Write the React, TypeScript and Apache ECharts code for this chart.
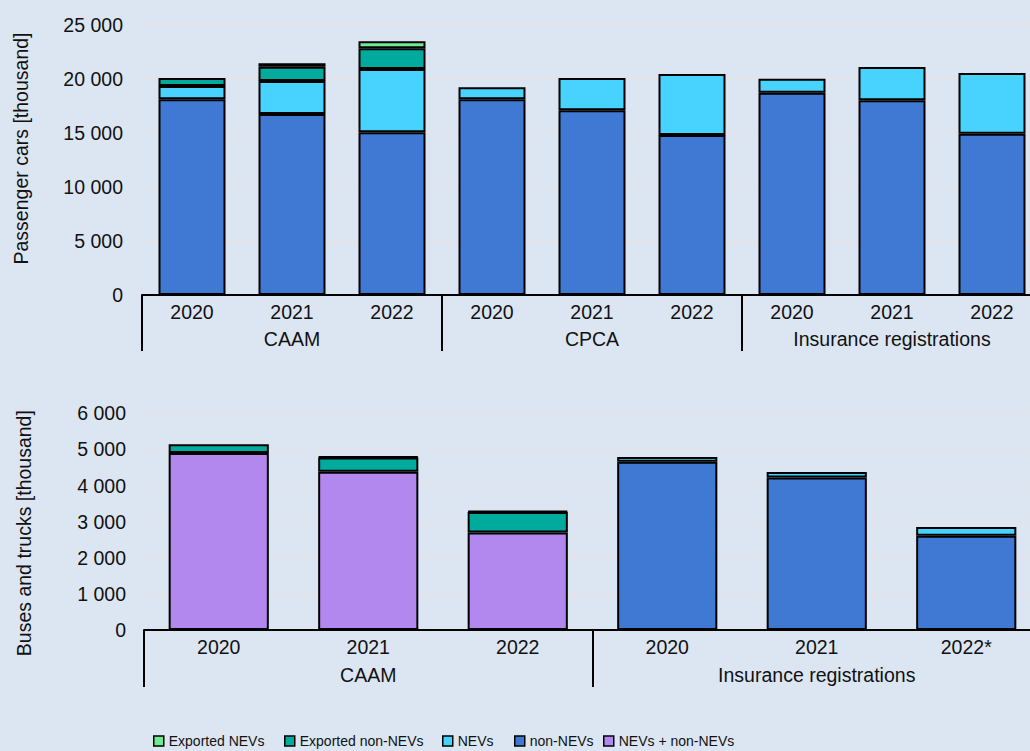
import React, { useEffect, useRef } from "react";
import * as echarts from "echarts";

// ---------- Data ----------
const topYears = ["2020", "2021", "2022", "2020", "2021", "2022", "2020", "2021", "2022"];
const topGroups = ["CAAM", "CPCA", "Insurance registrations"];
const topNonNEVs = [18120, 16760, 15060, 18120, 17100, 14810, 18730, 18030, 14940];
const topNEVs = [1230, 3050, 5870, 1110, 2990, 5650, 1300, 3080, 5620];
const topExpNonNEVs = [740, 1330, 1910, "-", "-", "-", "-", "-", "-"];
const topExpNEVs = ["-", 310, 650, "-", "-", "-", "-", "-", "-"];

const botYears = ["2020", "2021", "2022", "2020", "2021", "2022*"];
const botGroups = ["CAAM", "Insurance registrations"];
const botAll = [4900, 4385, 2700, "-", "-", "-"];
const botNonNEVs = ["-", "-", "-", 4660, 4220, 2610];
const botNEVs = ["-", "-", "-", 130, 155, 240];
const botExpNonNEVs = [240, 390, 570, "-", "-", "-"];
const botExpNEVs = ["-", 25, 25, "-", "-", "-"];

const legendNames = ["Exported NEVs", "Exported non-NEVs", "NEVs", "non-NEVs", "NEVs + non-NEVs"];

// ---------- Styles ----------
const BG = "#DCE6F2";
const C_NON = "#3F79D3";
const C_NEV = "#48D3FE";
const C_EXPNON = "#00AB9E";
const C_EXPNEV = "#6EEC8F";
const C_ALL = "#B388EE";
const FONT = "'Liberation Sans', Arial, sans-serif";
const FS = 19.5;
const TXT = "#111";
const legendLefts = [153, 284, 442, 514, 603];

const fmt = (v: number) => String(v).replace(/\B(?=(\d{3})+(?!\d))/g, " ");

export default function App() {
  const ref = useRef<HTMLDivElement>(null);
  useEffect(() => {
    if (!ref.current) return;
    const chart = echarts.init(ref.current, undefined, { renderer: "svg" });
    const barStyle = (color: string) => ({ color, borderColor: "#000", borderWidth: 2 });
    const catAxis = (grid: number, data: string[], margin: number) => ({
      type: "category",
      gridIndex: grid,
      data,
      position: "bottom",
      axisLine: { show: true, lineStyle: { color: "#000", width: 2 } },
      axisTick: { show: false },
      axisLabel: { margin, fontSize: FS, color: TXT, fontFamily: FONT, interval: 0 },
      splitLine: { show: false },
    });
    const groupAxis = (grid: number, data: string[], tickLen: number, margin: number) => ({
      type: "category",
      gridIndex: grid,
      data,
      position: "bottom",
      axisLine: { show: false },
      axisTick: { show: true, length: tickLen, lineStyle: { color: "#000", width: 2 } },
      axisLabel: { margin, fontSize: FS, color: TXT, fontFamily: FONT, interval: 0 },
      splitLine: { show: false },
    });
    const valAxis = (grid: number, max: number, interval: number, name: string, gap: number, pad: number[], margin: number) => ({
      type: "value",
      gridIndex: grid,
      min: 0,
      max,
      interval,
      name,
      nameLocation: "middle",
      nameGap: gap,
      nameTextStyle: { fontSize: FS, color: TXT, fontFamily: FONT, padding: pad },
      axisLine: { show: false },
      axisTick: { show: false },
      axisLabel: { margin, fontSize: FS, color: TXT, fontFamily: FONT, formatter: fmt },
      splitLine: { show: true, lineStyle: { color: "#E7E3E4", width: 1.5 } },
    });

    const legends = legendNames.map((n, i) => ({
      data: [n],
      left: legendLefts[i],
      top: 734,
      padding: 0,
      itemWidth: 10,
      itemHeight: 10,
      icon: "rect",
      itemStyle: { borderColor: "#000", borderWidth: 1.5 },
      textStyle: { fontSize: 14, color: TXT, fontFamily: FONT },
    }));

    chart.setOption({
      animation: false,
      backgroundColor: BG,
      textStyle: { fontFamily: FONT },
      grid: [
        { left: 142, top: 25, right: 18, bottom: 456, containLabel: false },
        { left: 144, top: 413.3, right: 19, bottom: 121, containLabel: false },
      ],
      xAxis: [
        catAxis(0, topYears, 7),
        groupAxis(0, topGroups, 56, 34),
        catAxis(1, botYears, 7),
        groupAxis(1, botGroups, 57, 35),
      ],
      yAxis: [
        valAxis(0, 25000, 5000, "Passenger cars [thousand]", 111, [0, 0, 0, 23], 19),
        valAxis(1, 6000, 1000, "Buses and trucks [thousand]", 110, [0, 23, 0, 0], 18),
      ],
      legend: legends,
      series: [
        { name: "non-NEVs", type: "bar", stack: "top", xAxisIndex: 0, yAxisIndex: 0, barCategoryGap: "33%", data: topNonNEVs, itemStyle: barStyle(C_NON) },
        { name: "NEVs", type: "bar", stack: "top", xAxisIndex: 0, yAxisIndex: 0, barCategoryGap: "33%", data: topNEVs, itemStyle: barStyle(C_NEV) },
        { name: "Exported non-NEVs", type: "bar", stack: "top", xAxisIndex: 0, yAxisIndex: 0, barCategoryGap: "33%", data: topExpNonNEVs, itemStyle: barStyle(C_EXPNON) },
        { name: "Exported NEVs", type: "bar", stack: "top", xAxisIndex: 0, yAxisIndex: 0, barCategoryGap: "33%", data: topExpNEVs, itemStyle: barStyle(C_EXPNEV) },
        { name: "NEVs + non-NEVs", type: "bar", stack: "bot", xAxisIndex: 2, yAxisIndex: 1, barCategoryGap: "33%", data: botAll, itemStyle: barStyle(C_ALL) },
        { name: "non-NEVs", type: "bar", stack: "bot", xAxisIndex: 2, yAxisIndex: 1, barCategoryGap: "33%", data: botNonNEVs, itemStyle: barStyle(C_NON) },
        { name: "NEVs", type: "bar", stack: "bot", xAxisIndex: 2, yAxisIndex: 1, barCategoryGap: "33%", data: botNEVs, itemStyle: barStyle(C_NEV) },
        { name: "Exported non-NEVs", type: "bar", stack: "bot", xAxisIndex: 2, yAxisIndex: 1, barCategoryGap: "33%", data: botExpNonNEVs, itemStyle: barStyle(C_EXPNON) },
        { name: "Exported NEVs", type: "bar", stack: "bot", xAxisIndex: 2, yAxisIndex: 1, barCategoryGap: "33%", data: botExpNEVs, itemStyle: barStyle(C_EXPNEV) },
      ],
    } as any);
    return () => chart.dispose();
  }, []);

  return (
    <div style={{ position: "absolute", left: 0, top: 0, width: 1030, height: 751, overflow: "hidden", background: BG }}>
      <div ref={ref} style={{ width: 1060, height: 751 }} />
    </div>
  );
}
